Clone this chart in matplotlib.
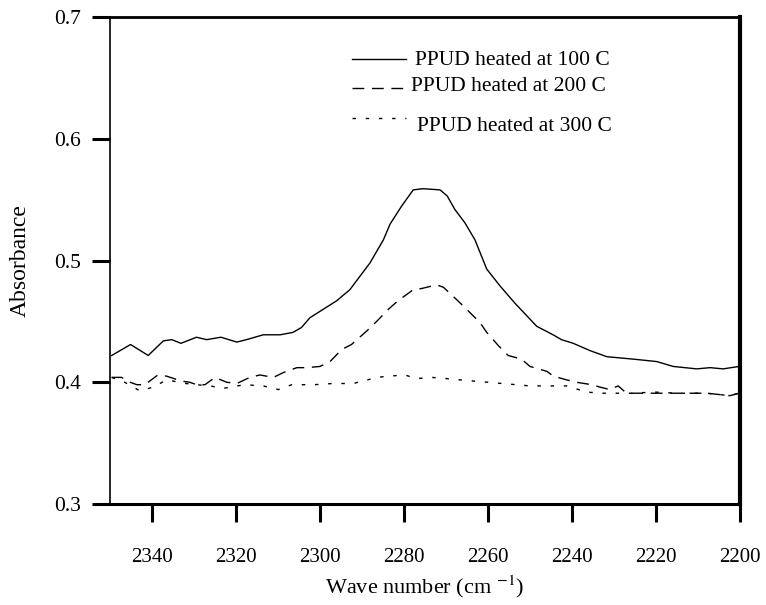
"""IR absorbance of PPUD heated at different temperatures (nitrile region)."""

import matplotlib
matplotlib.use("Agg")
import matplotlib.pyplot as plt

# Wave number (cm-1) / absorbance
wn_100 = [2349.6, 2345.1, 2340.9, 2337.3, 2335.3, 2333.1, 2329.4, 2327.0, 2323.6, 2319.8,
          2317.5, 2315.5, 2313.5, 2309.5, 2306.4, 2304.4, 2302.4, 2299.2, 2296.0, 2292.9,
          2290.5, 2288.1, 2284.9, 2283.3, 2280.5, 2277.8, 2275.5, 2271.4, 2269.7, 2267.9,
          2265.5, 2263.1, 2260.3, 2257.1, 2253.6, 2248.4, 2244.5, 2242.5, 2239.7, 2235.7,
          2231.7, 2225.4, 2219.8, 2215.9, 2210.3, 2207.1, 2204.0, 2200.2]
abs_100 = [0.422, 0.431, 0.422, 0.434, 0.435, 0.432, 0.437, 0.435, 0.437, 0.433,
           0.435, 0.437, 0.439, 0.439, 0.441, 0.445, 0.453, 0.460, 0.467, 0.476,
           0.487, 0.498, 0.517, 0.530, 0.545, 0.558, 0.559, 0.558, 0.553, 0.542,
           0.531, 0.517, 0.493, 0.479, 0.465, 0.446, 0.439, 0.435, 0.432, 0.426,
           0.421, 0.419, 0.417, 0.413, 0.411, 0.412, 0.411, 0.413]

wn_200 = [2349.6, 2347.2, 2346.0, 2343.6, 2341.7, 2338.6, 2336.5, 2333.0, 2331.0, 2329.4,
          2327.4, 2325.0, 2322.2, 2319.8, 2316.7, 2314.3, 2311.1, 2308.7, 2305.5, 2303.2,
          2300.0, 2297.6, 2294.8, 2292.5, 2288.9, 2286.5, 2283.7, 2281.4, 2277.8, 2275.8,
          2272.2, 2270.6, 2267.5, 2265.1, 2261.9, 2260.3, 2257.5, 2255.2, 2252.0, 2250.0,
          2246.0, 2244.4, 2241.3, 2238.9, 2235.3, 2233.3, 2231.0, 2229.0, 2227.0, 2223.8,
          2219.0, 2212.7, 2207.9, 2202.4, 2200.2]
abs_200 = [0.404, 0.404, 0.401, 0.398, 0.398, 0.406, 0.405, 0.401, 0.400, 0.398,
           0.398, 0.404, 0.400, 0.399, 0.404, 0.406, 0.404, 0.408, 0.412, 0.412,
           0.413, 0.417, 0.427, 0.431, 0.442, 0.450, 0.460, 0.467, 0.476, 0.477,
           0.480, 0.478, 0.468, 0.460, 0.449, 0.441, 0.430, 0.422, 0.419, 0.413,
           0.409, 0.405, 0.402, 0.400, 0.398, 0.396, 0.394, 0.397, 0.391, 0.391,
           0.391, 0.391, 0.391, 0.389, 0.391]

wn_300 = [2349.6, 2346.5, 2342.9, 2339.7, 2336.5, 2332.0, 2329.4, 2326.2, 2323.0, 2318.0,
          2313.5, 2309.9, 2306.7, 2301.5, 2296.8, 2292.1, 2289.7, 2286.5, 2283.7, 2279.8,
          2277.0, 2273.4, 2269.8, 2266.7, 2263.5, 2259.9, 2256.7, 2253.2, 2250.0, 2245.5,
          2241.3, 2236.5, 2233.3, 2225.4, 2220.6, 2215.1, 2207.9, 2202.4, 2200.2]
abs_300 = [0.404, 0.400, 0.393, 0.396, 0.402, 0.399, 0.398, 0.397, 0.395, 0.398,
           0.397, 0.394, 0.398, 0.398, 0.399, 0.399, 0.401, 0.404, 0.405, 0.406,
           0.403, 0.404, 0.403, 0.402, 0.401, 0.400, 0.399, 0.398, 0.397, 0.397,
           0.397, 0.392, 0.391, 0.391, 0.392, 0.391, 0.391, 0.389, 0.391]

labels = ["PPUD heated at 100 C", "PPUD heated at 200 C", "PPUD heated at 300 C"]
x_ticks = [2340, 2320, 2300, 2280, 2260, 2240, 2220, 2200]
y_ticks = [0.3, 0.4, 0.5, 0.6, 0.7]

plt.rcParams["font.family"] = ["Liberation Serif", "DejaVu Serif"]
plt.rcParams["mathtext.fontset"] = "stix"

fig = plt.figure(figsize=(7.66, 6.05), dpi=100)
ax = fig.add_axes([0.1436, 0.1669, 0.8224, 0.805])

styles = ["-", (0, (8.5, 5.5)), (0, (2.5, 7))]
series = [(wn_100, abs_100), (wn_200, abs_200), (wn_300, abs_300)]
for (wn, ab), ls in zip(series, styles):
    ax.plot(wn, ab, color="black", linestyle=ls, linewidth=1.0)

ax.set_xlim(2350, 2200)
ax.set_ylim(0.3, 0.7)
ax.set_xticks(x_ticks)
ax.set_yticks(y_ticks)
ax.set_yticklabels([f"{v:.1f}" for v in y_ticks])
ax.tick_params(axis="x", direction="out", length=13, width=2.2, pad=19, labelsize=15)
ax.tick_params(axis="y", direction="out", length=13, width=2.2, pad=8, labelsize=15.5)

ax.spines["left"].set_linewidth(1.2)
ax.spines["top"].set_linewidth(2.0)
ax.spines["bottom"].set_linewidth(2.2)
ax.spines["right"].set_linewidth(3.0)

ax.set_xlabel("Wave number (cm $^{-1}$)", fontsize=16, labelpad=4)
ax.set_ylabel("Absorbance", fontsize=17, labelpad=17)

# hand-placed legend, spacing as in the original figure
key_y = [0.914, 0.855, 0.793]
text_y = [0.9117, 0.8583, 0.776]
text_x = [0.484, 0.478, 0.487]
for ls, ky, ty, tx, lab in zip(styles, key_y, text_y, text_x, labels):
    ax.plot([0.384, 0.470], [ky, ky], transform=ax.transAxes, color="black",
            linestyle=ls, linewidth=1.0)
    ax.text(tx, ty, lab, transform=ax.transAxes, ha="left", va="center", fontsize=15.5)

fig.savefig("out.png", dpi=100)
plt.close(fig)
